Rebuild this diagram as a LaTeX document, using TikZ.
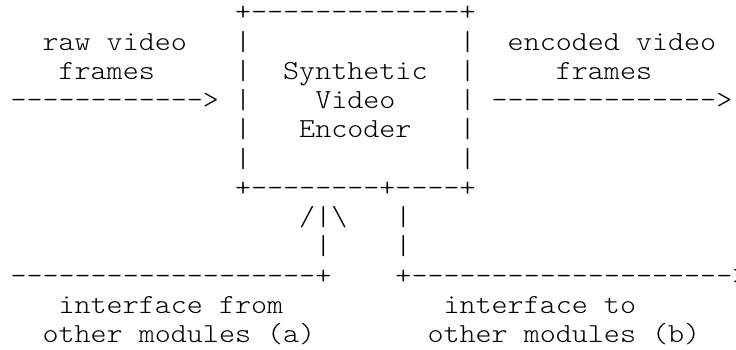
\documentclass[tikz,border=0pt]{standalone}
\usepackage{fontspec}
\usepackage{graphicx}
\begin{document}
% Plain-text block diagram set on a fixed character grid:
% one column = 16.04pt, one row = 29.25pt.
% Light typewriter face, widened so that one character is one column.
\newcommand\gridfont{\ttfamily\fontseries{l}\fontsize{27.5pt}{29.25pt}\selectfont}
\newcommand\gridtext[4]{%
  \node[glyphs] (#1) at ({10.5+16.04*#2},{20.75+29.25*#3})
    {\scalebox{1.1110}[1]{\gridfont #4}};}
\begin{tikzpicture}[x=1pt,y=-1pt,
  glyphs/.style={anchor=base west,inner sep=0pt,outer sep=0pt}]
\useasboundingbox (0,0) rectangle (736,349);
% encoder box
\gridtext{boxtop}{14}{0}{+-------------+}
\gridtext{l1}{14}{1}{|}\gridtext{r1}{28}{1}{|}
\gridtext{l2}{14}{2}{|}\gridtext{r2}{28}{2}{|}
\gridtext{l3}{14}{3}{|}\gridtext{r3}{28}{3}{|}
\gridtext{l4}{14}{4}{|}\gridtext{r4}{28}{4}{|}
\gridtext{l5}{14}{5}{|}\gridtext{r5}{28}{5}{|}
\gridtext{boxbot}{14}{6}{+--------+----+}
\gridtext{name1}{17}{2}{Synthetic}
\gridtext{name2}{19}{3}{Video}
\gridtext{name3}{18}{4}{Encoder}
% input side
\gridtext{in1}{2}{1}{raw video}
\gridtext{in2}{3}{2}{frames}
\gridtext{inarrow}{0}{3}{------------>}
% output side
\gridtext{out1}{31}{1}{encoded video}
\gridtext{out2}{34}{2}{frames}
\gridtext{outarrow}{30}{3}{-------------->}
% interface (a): up into the encoder
\gridtext{upa}{18}{7}{/|\textbackslash}
\gridtext{upb}{19}{8}{|}
\gridtext{ifa}{0}{9}{-------------------+}
\gridtext{ifa1}{3}{10}{interface from}
\gridtext{ifa2}{2}{11}{other modules (a)}
% interface (b): out of the encoder
\gridtext{dna}{24}{7}{|}
\gridtext{dnb}{24}{8}{|}
\gridtext{ifb}{24}{9}{+-------------------->}
\gridtext{ifb1}{27}{10}{interface to}
\gridtext{ifb2}{26}{11}{other modules (b)}
\end{tikzpicture}
\end{document}
